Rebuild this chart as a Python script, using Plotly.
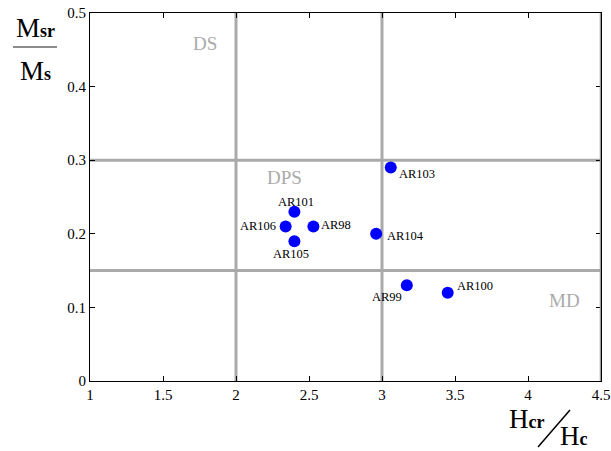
import plotly.graph_objects as go

# Data
names = ["AR103", "AR101", "AR106", "AR98", "AR105", "AR104", "AR99", "AR100"]
hcr_hc = [3.06, 2.40, 2.34, 2.53, 2.40, 2.96, 3.17, 3.45]
msr_ms = [0.29, 0.23, 0.21, 0.21, 0.19, 0.20, 0.13, 0.12]

x_ticks = [1, 1.5, 2, 2.5, 3, 3.5, 4, 4.5]
x_ticklabels = ["1", "1.5", "2", "2.5", "3", "3.5", "4", "4.5"]
y_ticks = [0, 0.1, 0.2, 0.3, 0.4, 0.5]
y_ticklabels = ["0", "0.1", "0.2", "0.3", "0.4", "0.5"]

boundary_x = [2, 3]
boundary_y = [0.15, 0.3]

regions = ["DS", "DPS", "MD"]
region_x = [1.79, 2.33, 4.25]
region_y = [0.458, 0.276, 0.11]

# label offsets (pixels, from point centre to label centre; +dy = down)
label_dx = [26, 2, -28, 23, -3, 29, -20, 27]
label_dy = [6, -10, 0, -1, 13, 2, 12, -7]

SERIF = "Liberation Serif"
GRAY = "#aaaaaa"

L, R, T, B = 90, 10, 13, 70
W, H = 611, 451
PW, PH = W - L - R, H - T - B

def px(xp):
    return (xp - L) / PW

def py(yp):
    return (H - B - yp) / PH

fig = go.Figure()
fig.add_trace(go.Scatter(
    x=hcr_hc, y=msr_ms, mode="markers",
    marker=dict(size=12, color="#0000ff"),
    cliponaxis=False, showlegend=False, hoverinfo="text", text=names,
))

shapes = []
for bx in boundary_x:
    shapes.append(dict(type="line", xref="x", yref="y", x0=bx, x1=bx, y0=0, y1=0.5,
                       line=dict(color=GRAY, width=3), layer="below"))
shapes.append(dict(type="line", xref="x", yref="y", x0=4.5, x1=4.5, y0=0, y1=0.5,
                   line=dict(color="#999999", width=2.5), layer="above"))
for by in boundary_y:
    shapes.append(dict(type="line", xref="x", yref="y", x0=1, x1=4.5, y0=by, y1=by,
                       line=dict(color=GRAY, width=3), layer="below"))
# fraction bar for y-axis title
shapes.append(dict(type="line", xref="paper", yref="paper",
                   x0=px(13), x1=px(57), y0=py(47), y1=py(47),
                   line=dict(color="#666666", width=1.5)))
# slash for x-axis title
shapes.append(dict(type="line", xref="paper", yref="paper",
                   x0=px(538), x1=px(570), y0=py(447), y1=py(410),
                   line=dict(color="black", width=1.5)))

annotations = []
for r, rx, ry in zip(regions, region_x, region_y):
    annotations.append(dict(x=rx, y=ry, xref="x", yref="y", text=r, showarrow=False,
                            font=dict(family=SERIF, size=19, color=GRAY)))
for n, xv, yv, dx, dy in zip(names, hcr_hc, msr_ms, label_dx, label_dy):
    annotations.append(dict(x=xv, y=yv, xref="x", yref="y", text=n, showarrow=False,
                            xshift=dx, yshift=-dy, xanchor="center", yanchor="middle",
                            font=dict(family=SERIF, size=12.5, color="black")))

sub = "<span style='font-size:18px;font-weight:bold'>%s</span>"
title_font = dict(family=SERIF, size=27, color="black")
annotations += [
    dict(x=px(35), y=py(28), xref="paper", yref="paper", text="M" + sub % "sr",
         xanchor="center", yanchor="middle", showarrow=False, font=title_font),
    dict(x=px(35), y=py(71), xref="paper", yref="paper", text="M" + sub % "s",
         xanchor="center", yanchor="middle", showarrow=False, font=title_font),
    dict(x=px(526), y=py(419), xref="paper", yref="paper", text="H" + sub % "cr",
         xanchor="center", yanchor="middle", showarrow=False, font=title_font),
    dict(x=px(574), y=py(436), xref="paper", yref="paper", text="H" + sub % "c",
         xanchor="center", yanchor="middle", showarrow=False, font=title_font),
]

axis_common = dict(showgrid=False, zeroline=False, showline=True, linecolor="black",
                   linewidth=1, mirror="ticks", ticks="inside", ticklen=5,
                   tickcolor="black", automargin=False,
                   tickfont=dict(family=SERIF, size=15, color="black"))

fig.update_layout(
    width=W, height=H,
    margin=dict(l=L, r=R, t=T, b=B),
    paper_bgcolor="white", plot_bgcolor="white",
    xaxis=dict(range=[1, 4.5], tickvals=x_ticks, ticktext=x_ticklabels, **axis_common),
    yaxis=dict(range=[0, 0.5], tickvals=y_ticks, ticktext=y_ticklabels, **axis_common),
    shapes=shapes, annotations=annotations,
)

fig.write_html("out.html")
